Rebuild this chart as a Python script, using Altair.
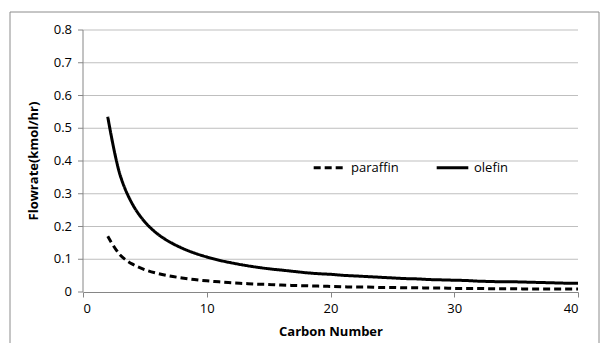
import altair as alt
import pandas as pd

carbon = list(range(2, 41))
olefin = [0.535, 0.357, 0.268, 0.214, 0.178, 0.153, 0.134, 0.119, 0.107, 0.097,
          0.089, 0.082, 0.076, 0.071, 0.067, 0.063, 0.059, 0.056, 0.054, 0.051,
          0.049, 0.047, 0.045, 0.043, 0.041, 0.040, 0.038, 0.037, 0.036, 0.035,
          0.033, 0.032, 0.031, 0.031, 0.030, 0.029, 0.028, 0.027, 0.027]
paraffin = [0.170, 0.113, 0.085, 0.068, 0.057, 0.049, 0.043, 0.038, 0.034, 0.031,
            0.028, 0.026, 0.024, 0.023, 0.021, 0.020, 0.019, 0.018, 0.017, 0.016,
            0.015, 0.015, 0.014, 0.014, 0.013, 0.013, 0.012, 0.012, 0.011, 0.011,
            0.011, 0.010, 0.010, 0.010, 0.009, 0.009, 0.009, 0.009, 0.009]
series = ["paraffin", "olefin"]
y_ticks = [0, 0.1, 0.2, 0.3, 0.4, 0.5, 0.6, 0.7, 0.8]
y_labels = ["0", "0.1", "0.2", "0.3", "0.4", "0.5", "0.6", "0.7", "0.8"]
x_ticks = [0, 10, 20, 30, 40]
y_title = ["Flowrate(kmol/hr)"]

rows = []
for c, p, o in zip(carbon, paraffin, olefin):
    rows.append({"n": c, "v": p, "s": "paraffin"})
    rows.append({"n": c, "v": o, "s": "olefin"})
df = pd.DataFrame(rows)
tick_df = pd.DataFrame({"t": y_ticks, "lab": y_labels})

FONT = "Open Sans"
AX = "#868686"
xs = alt.Scale(domain=[0, 40], nice=False)
ys = alt.Scale(domain=[0, 0.8], nice=False)

grid = alt.Chart(pd.DataFrame({"g": y_ticks[1:]})).mark_rule(
    color="#bfbfbf", strokeWidth=1
).encode(
    y=alt.Y("g:Q", scale=ys, axis=None),
    x=alt.value(0), x2=alt.value(495),
)

y_domain = alt.Chart(pd.DataFrame({"a": [0]})).mark_rule(color=AX, strokeWidth=1).encode(
    x=alt.value(0), y=alt.value(0), y2=alt.value(262)
)

y_tickmarks = alt.Chart(tick_df).mark_rule(color=AX, strokeWidth=1, clip=False).encode(
    y=alt.Y("t:Q", scale=ys, axis=None),
    x=alt.value(-5), x2=alt.value(0),
)

y_ticklabels = alt.Chart(tick_df).mark_text(
    align="right", baseline="middle", font=FONT, fontSize=13, color="black", clip=False
).encode(
    y=alt.Y("t:Q", scale=ys, axis=None),
    x=alt.value(-11),
    text="lab:N",
)

y_titletext = alt.Chart(pd.DataFrame({"tt": y_title})).mark_text(
    angle=270, align="center", baseline="middle", font=FONT, fontSize=13,
    fontWeight="bold", color="black", clip=False
).encode(
    x=alt.value(-49), y=alt.value(131), text="tt:N"
)

border = alt.Chart(pd.DataFrame({"a": [0]})).mark_rect(
    fill=None, stroke="#8c8c8c", strokeWidth=1, clip=False
).encode(
    x=alt.value(-73), x2=alt.value(516), y=alt.value(-18), y2=alt.value(340)
)

lines = alt.Chart(df).mark_line(color="black", strokeWidth=3, interpolate="catmull-rom").encode(
    x=alt.X("n:Q", scale=xs,
            axis=alt.Axis(title="Carbon Number", values=x_ticks,
                          grid=False, tickSize=5, labelPadding=5, titlePadding=10)),
    y=alt.Y("v:Q", scale=ys, axis=None),
    strokeDash=alt.StrokeDash("s:N", scale=alt.Scale(domain=series, range=[[7, 4], [1, 0]]),
                              legend=alt.Legend(title=None, orient="none", legendX=229, legendY=120,
                                                direction="horizontal", symbolType="stroke",
                                                symbolSize=1000, symbolStrokeWidth=3,
                                                symbolStrokeColor="black", columnPadding=31,
                                                labelFontSize=13, labelFont=FONT, labelColor="black")),
    detail="s:N",
)

chart = alt.layer(grid, lines, border, y_domain, y_tickmarks, y_ticklabels, y_titletext).properties(
    width=495, height=262,
    autosize=alt.AutoSizeParams(type="none"),
    padding={"left": 83, "top": 30, "right": 24, "bottom": 51},
    background="white",
).configure_view(stroke=None).configure_axis(
    labelFont=FONT, titleFont=FONT, labelFontSize=13, titleFontSize=13,
    labelColor="black", titleColor="black", titleFontWeight="bold",
    domainColor=AX, tickColor=AX
)

chart.save("out.html", embed_options={"renderer": "svg", "actions": False})
